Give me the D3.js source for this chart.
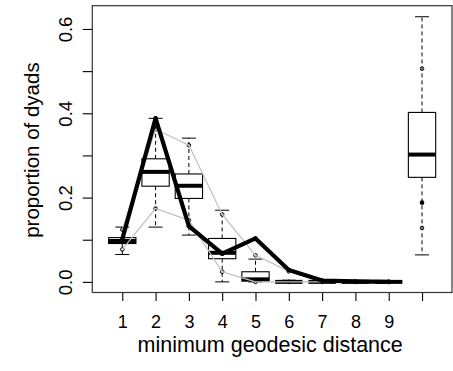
<!DOCTYPE html>
<html>
<head>
<meta charset="utf-8">
<script src="https://cdn.jsdelivr.net/npm/d3@7/dist/d3.min.js"></script>
<style>
  html, body { margin: 0; padding: 0; background: #fff; }
  svg text { font-family: "Liberation Sans", Arial, Helvetica, sans-serif; fill: #000; }
</style>
</head>
<body>
<svg id="chart" width="453" height="371"></svg>
<script>
// Category positions along the x axis (the last one is the unreachable group)
const categories = [1, 2, 3, 4, 5, 6, 7, 8, 9, 10];
const tickLabels = ["1", "2", "3", "4", "5", "6", "7", "8", "9", ""];

// Simulated distribution summaries per distance
const whiskerLow  = [0.065, 0.130, 0.111, 0.000, 0.000, 0.000, 0.000, 0.000, 0.000, 0.064];
const quart1      = [0.091, 0.227, 0.198, 0.055, 0.002, 0.000, 0.000, 0.000, 0.000, 0.248];
const medians     = [0.097, 0.261, 0.228, 0.069, 0.006, 0.000, 0.000, 0.000, 0.000, 0.302];
const quart3      = [0.105, 0.292, 0.256, 0.103, 0.024, 0.000, 0.000, 0.000, 0.000, 0.402];
const whiskerHigh = [0.130, 0.388, 0.341, 0.170, 0.054, 0.004, 0.000, 0.000, 0.000, 0.629];

// 95% bounds of the simulations and the observed network
const boundLow  = [0.077, 0.174, 0.146, 0.024, 0.000, 0.000, 0.000, 0.000, 0.000, 0.128];
const boundHigh = [0.124, 0.362, 0.324, 0.160, 0.063, 0.025, 0.002, 0.000, 0.000, 0.506];
const observed  = [0.101, 0.388, 0.132, 0.067, 0.103, 0.028, 0.003, 0.001, 0.000, 0.188];

const yTicks = [0, 0.1, 0.2, 0.3, 0.4, 0.5, 0.6];
const yTickLabels = ["0.0", "", "0.2", "", "0.4", "", "0.6"];

const svg = d3.select("#chart");
const plotL = 92.3, plotR = 452, plotT = 5.7, plotB = 292.5;

const x = d3.scaleLinear().domain([0.1, 10.9]).range([plotL, plotR]);
const y = d3.scaleLinear().domain([-0.0252, 0.6552]).range([plotB, plotT]);

const halfBox = x(0.41) - x(0);
const halfCap = x(0.21) - x(0);

// Axes
const xAxis = d3.axisBottom(x).tickValues(categories)
  .tickFormat((d, i) => tickLabels[i]).tickSize(8.5).tickPadding(14);
const gx = svg.append("g").attr("transform", `translate(0,${plotB})`).call(xAxis);
gx.select(".domain").remove();
gx.selectAll("line").attr("stroke", "#000").attr("stroke-width", 1.1);
gx.selectAll("text").attr("font-size", 18).attr("font-family", "Liberation Sans, Arial, sans-serif");

const yAxis = d3.axisLeft(y).tickValues(yTicks)
  .tickFormat((d, i) => yTickLabels[i]).tickSize(9.5).tickPadding(0);
const gy = svg.append("g").attr("transform", `translate(${plotL},0)`).call(yAxis);
gy.select(".domain").remove();
gy.selectAll("line").attr("stroke", "#000").attr("stroke-width", 1.1);
gy.selectAll("text")
  .attr("font-size", 18.5).attr("font-family", "Liberation Sans, Arial, sans-serif")
  .attr("text-anchor", "middle").attr("dy", null).attr("x", null).attr("y", 0)
  .attr("transform", `translate(${72 - plotL},0) rotate(-90)`);

// Plot frame
svg.append("rect")
  .attr("x", plotL).attr("y", plotT)
  .attr("width", plotR - plotL).attr("height", plotB - plotT)
  .attr("fill", "none").attr("stroke", "#333").attr("stroke-width", 1.2);

// Axis titles
svg.append("text")
  .attr("x", (x(1) + x(10)) / 2 - 2).attr("y", 352)
  .attr("text-anchor", "middle").attr("font-size", 21.5)
  .text("minimum geodesic distance");
svg.append("text")
  .attr("transform", `translate(39,${(plotT + plotB) / 2 + 1}) rotate(-90)`)
  .attr("text-anchor", "middle").attr("font-size", 20.5)
  .text("proportion of dyads");

// Boxplots
const boxes = svg.append("g");
categories.forEach((c, i) => {
  const cx = x(c);
  const g = boxes.append("g");
  // dashed whiskers
  g.append("line").attr("x1", cx).attr("x2", cx)
    .attr("y1", y(quart3[i])).attr("y2", y(whiskerHigh[i]))
    .attr("stroke", "#000").attr("stroke-dasharray", "4,3");
  g.append("line").attr("x1", cx).attr("x2", cx)
    .attr("y1", y(quart1[i])).attr("y2", y(whiskerLow[i]))
    .attr("stroke", "#000").attr("stroke-dasharray", "4,3");
  // staples
  [whiskerHigh[i], whiskerLow[i]].forEach(v => {
    g.append("line").attr("x1", cx - halfCap).attr("x2", cx + halfCap)
      .attr("y1", y(v)).attr("y2", y(v)).attr("stroke", "#000");
  });
  // box
  g.append("rect").attr("x", cx - halfBox).attr("width", 2 * halfBox)
    .attr("y", y(quart3[i])).attr("height", Math.max(0, y(quart1[i]) - y(quart3[i])))
    .attr("fill", "#fff").attr("stroke", "#000").attr("stroke-width", 1.1);
  // median
  g.append("line").attr("x1", cx - halfBox).attr("x2", cx + halfBox)
    .attr("y1", y(medians[i])).attr("y2", y(medians[i]))
    .attr("stroke", "#000").attr("stroke-width", 4);
});

// Simulation bounds: open circles and gray lines (not joined to the last category)
const last = categories.length - 1;
const gray = "#bfbfbf";
[boundLow, boundHigh].forEach(arr => {
  svg.append("g").selectAll("circle").data(categories).join("circle")
    .attr("cx", d => x(d)).attr("cy", (d, i) => y(arr[i])).attr("r", 1.8)
    .attr("fill", "none").attr("stroke", "#000").attr("stroke-width", 1);
});
const line = d3.line().x(d => x(d[0])).y(d => y(d[1]));
[boundLow, boundHigh].forEach(arr => {
  svg.append("path")
    .datum(categories.slice(0, last).map((c, i) => [c, arr[i]]))
    .attr("d", line).attr("fill", "none").attr("stroke", gray).attr("stroke-width", 1.2);
});

// Observed network
svg.append("g").selectAll("circle").data(categories).join("circle")
  .attr("cx", d => x(d)).attr("cy", (d, i) => y(observed[i])).attr("r", 2.3)
  .attr("fill", "#000");
svg.append("path")
  .datum(categories.slice(0, last).map((c, i) => [c, observed[i]]))
  .attr("d", line).attr("fill", "none").attr("stroke", "#000")
  .attr("stroke-width", 4.2).attr("stroke-linejoin", "round");
</script>
</body>
</html>
